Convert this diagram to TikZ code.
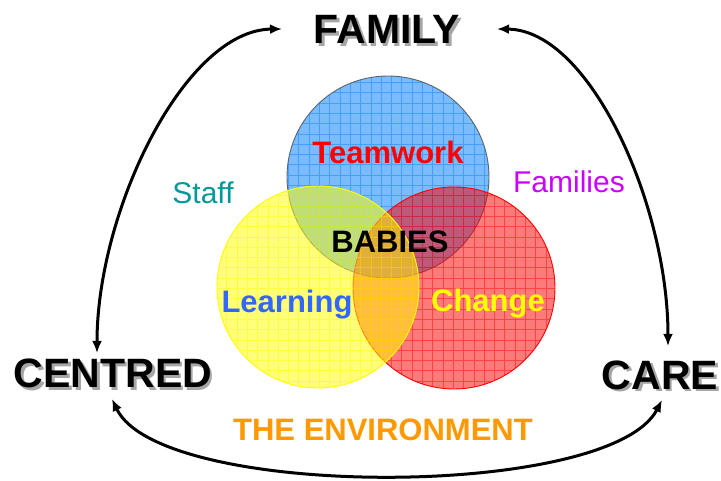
\documentclass[tikz,border=0pt]{standalone}
\usepackage{fontspec}
\setmainfont{Liberation Sans}
\usetikzlibrary{arrows.meta}
\definecolor{cblue}{RGB}{0,128,255}
\definecolor{cred}{RGB}{255,0,0}
\definecolor{cyel}{RGB}{255,255,0}
\definecolor{cteal}{RGB}{0,153,153}
\definecolor{cmag}{RGB}{204,0,255}
\definecolor{clearn}{RGB}{51,102,255}
\definecolor{corange}{RGB}{255,153,0}
\definecolor{cedge}{RGB}{90,100,110}
\newcommand{\shadowtext}[1]{\rlap{\kern2.5pt\raisebox{-2.5pt}{\color{black!35}#1}}#1}
\tikzset{
  big/.style={inner sep=0pt, anchor=base, font=\fontsize{41}{41}\selectfont\bfseries},
  mid/.style={inner sep=0pt, anchor=base, font=\fontsize{31}{31}\selectfont\bfseries},
  thin/.style={inner sep=0pt, anchor=base, font=\fontsize{30}{30}\selectfont},
  arr/.style={line width=3pt, {Latex[length=12pt,width=10pt]}-{Latex[length=12pt,width=10pt]}},
  gridl/.style={line width=0.6pt},
}
\newcommand{\gridcircle}[4]{% center x, center y, fill colour, edge colour
  \fill[#3, fill opacity=0.52] (#1,#2) circle[radius=101pt];
  \begin{scope}
    \clip (#1,#2) circle[radius=101pt];
    \draw[gridl, #3, opacity=0.45] (#1-110,#2-110) grid[step=10.3pt] (#1+110,#2+110);
  \end{scope}
  \draw[#4, line width=0.9pt] (#1,#2) circle[radius=101pt];
}
\begin{document}
\begin{tikzpicture}[x=1pt,y=-1pt]
\useasboundingbox (0,0) rectangle (721,481);
\fill[white] (0,0) rectangle (721,481);
% circles
\gridcircle{388}{177}{cblue}{cedge}
\gridcircle{454}{288}{cred}{cred}
\gridcircle{318}{287}{cyel}{cyel}
% shadowed titles
\node[big] (family) at (387,44) {\shadowtext{FAMILY}};
\node[big] (centred) at (113,388) {\shadowtext{CENTRED}};
\node[big] (care) at (660,389) {\shadowtext{CARE}};
% inner texts
\node[mid, text=cred] (team) at (388,164) {Teamwork};
\node[mid, text=black] (babies) at (390,253) {BABIES};
\node[mid, text=clearn] (learn) at (287,313) {Learning};
\node[mid, text=cyel] (change) at (488,312) {Change};
\node[thin, text=cteal] (staff) at (203,204) {Staff};
\node[thin, text=cmag] (families) at (569,193) {Families};
\node[mid, text=corange] (env) at (383,440) {THE ENVIRONMENT};
% arrow ends
\coordinate (cTop) at (97,353);
\coordinate (fL) at (282,29);
\coordinate (fR) at (497,29);
\coordinate (aTop) at (668,346);
\coordinate (cBot) at (112,399);
\coordinate (aBot) at (662,400);
\draw[arr] (cTop) .. controls (97,210) and (185,30) .. (fL);
\draw[arr] (fR) .. controls (590,30) and (668,205) .. (aTop);
\draw[arr] (cBot) .. controls (160,500) and (610,500) .. (aBot);
\end{tikzpicture}
\end{document}
